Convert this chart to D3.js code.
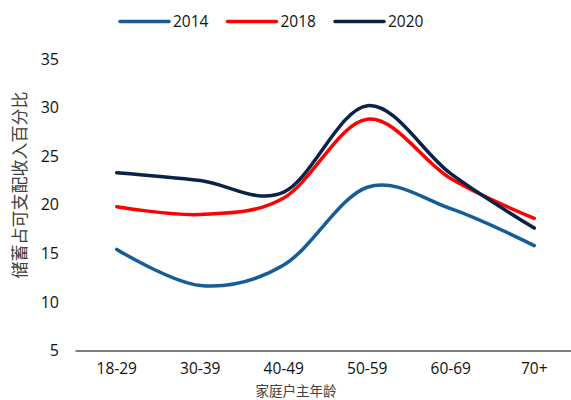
<!DOCTYPE html>
<html lang="zh">
<head>
    <meta charset="UTF-8">
    <title>储蓄占可支配收入百分比</title>
    <style>
        body { margin: 0; background: white; }
        svg { display: block; font-family: "Open Sans", "Noto Sans", sans-serif; }
        .tick text { fill: #111; }
    </style>
</head>
<body>
    <svg width="571" height="400" id="chart"></svg>

    <script src="https://d3js.org/d3.v7.min.js"></script>
    <script>
        // data
        const ageGroups = ["18-29", "30-39", "40-49", "50-59", "60-69", "70+"];
        const years = ["2014", "2018", "2020"];
        const values2014 = [15.4, 11.7, 13.8, 21.8, 19.6, 15.8];
        const values2018 = [19.8, 19.0, 20.7, 28.8, 22.7, 18.6];
        const values2020 = [23.3, 22.5, 21.3, 30.2, 23.2, 17.6];
        const yTicks = [5, 10, 15, 20, 25, 30, 35];

        const series = [
            { name: years[0], values: values2014, color: "#155d99" },
            { name: years[1], values: values2018, color: "#ff0000" },
            { name: years[2], values: values2020, color: "#0b2247" }
        ];

        const svg = d3.select("#chart");

        const x = d3.scaleBand().domain(ageGroups).range([75, 576]);
        const y = d3.scaleLinear().domain([5, 35]).range([350.5, 59]);

        // x axis
        const xAxis = svg.append("g")
            .attr("transform", "translate(0,350.5)")
            .call(d3.axisBottom(x).tickSize(0).tickPadding(12));
        xAxis.select(".domain").attr("stroke", "#000").attr("stroke-width", 1.2);
        xAxis.selectAll("text").attr("font-size", 15.5).attr("font-family", "Open Sans");

        // y axis labels only
        const yAxis = svg.append("g")
            .attr("transform", "translate(59,0)")
            .call(d3.axisLeft(y).tickValues(yTicks).tickSize(0).tickPadding(0));
        yAxis.select(".domain").remove();
        yAxis.selectAll("text").attr("font-size", 16).attr("font-family", "Open Sans");

        // lines
        const line = d3.line()
            .x((d, i) => x(ageGroups[i]) + x.bandwidth() / 2)
            .y(d => y(d))
            .curve(d3.curveCardinal.tension(0));

        svg.selectAll("path.series")
            .data(series)
            .enter()
            .append("path")
            .attr("class", "series")
            .attr("fill", "none")
            .attr("stroke", d => d.color)
            .attr("stroke-width", 3.5)
            .attr("stroke-linecap", "round")
            .attr("d", d => line(d.values));

        // legend
        const legend = svg.selectAll("g.legend")
            .data(series)
            .enter()
            .append("g")
            .attr("class", "legend")
            .attr("transform", (d, i) => `translate(${120 + i * 107.5},21.5)`);
        legend.append("line")
            .attr("x1", 0).attr("x2", 49)
            .attr("stroke", d => d.color)
            .attr("stroke-width", 3.5)
            .attr("stroke-linecap", "round");
        legend.append("text")
            .attr("x", 53)
            .attr("dy", "0.36em")
            .attr("font-size", 15.5)
            .attr("fill", "#111")
            .text(d => d.name);

        // axis titles
        svg.append("text")
            .attr("transform", "translate(20,185) rotate(-90)")
            .attr("text-anchor", "middle")
            .attr("dy", "0.35em")
            .attr("font-family", "Noto Sans CJK SC")
            .attr("font-size", 17)
            .attr("fill", "#404040")
            .text("储蓄占可支配收入百分比");

        svg.append("text")
            .attr("x", 296)
            .attr("y", 396)
            .attr("text-anchor", "middle")
            .attr("font-family", "Noto Sans CJK SC")
            .attr("font-size", 13.5)
            .attr("fill", "#404040")
            .text("家庭户主年龄");
    </script>
</body>
</html>
